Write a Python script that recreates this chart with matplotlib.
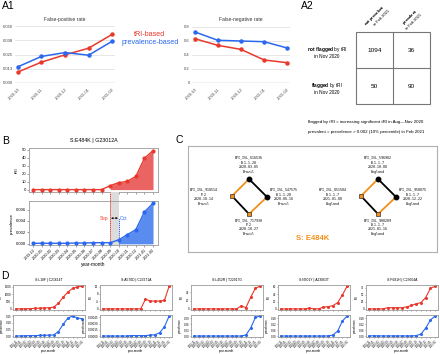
import matplotlib
matplotlib.use('Agg')
import matplotlib.pyplot as plt
from matplotlib.transforms import blended_transform_factory
from matplotlib.patches import Rectangle
from matplotlib.ticker import MaxNLocator
import numpy as np

plt.rcParams['font.family'] = ['Liberation Sans', 'DejaVu Sans']
plt.rcParams['mathtext.fontset'] = 'custom'
plt.rcParams['mathtext.rm'] = 'Liberation Sans'
plt.rcParams['mathtext.bf'] = 'Liberation Sans:bold'
plt.rcParams['mathtext.it'] = 'Liberation Sans:italic'

W, H, DPI = 440, 354, 100

# ---------------- data ----------------
a_months = ['2020-10', '2020-11', '2020-12', '2021-01', '2021-02']
fp_tri = [0.0096, 0.0183, 0.0247, 0.0305, 0.0427]
fp_prev = [0.0142, 0.0233, 0.0267, 0.0244, 0.0366]
fp_ticks = [0.0, 0.0125, 0.025, 0.0375, 0.05]
fp_ticklabels = ['0.000', '0.013', '0.025', '0.038', '0.050']
fn_tri = [0.633, 0.538, 0.480, 0.329, 0.290]
fn_prev = [0.730, 0.610, 0.600, 0.590, 0.500]
fn_ticks = [0.0, 0.2, 0.4, 0.6, 0.8]
fn_ticklabels = ['0', '0.2', '0.4', '0.6', '0.8']

table_rows = ['not flagged', 'flagged']
table_cols = ['not prevalent', 'prevalent']
table_counts = [[1094, 36], [50, 90]]

months = ['2019-12', '2020-01', '2020-02', '2020-03', '2020-04', '2020-05',
          '2020-06', '2020-07', '2020-08', '2020-09', '2020-10', '2020-11',
          '2020-12', '2021-01', '2021-02']
b_title = 'S:E484K | G23012A'
b_tri = [0, 0, 0, 0, 0, 0, 0, 0, 0, 5.0, 8.8, 10.4, 16.7, 39.6, 49.2]
b_prev = [0.0001, 0.0001, 0.0001, 0.0001, 0.0001, 0.00015, 0.00015, 0.0002,
          0.0002, 0.0002, 0.0007, 0.0016, 0.0025, 0.0056, 0.0071]
b_tri_start = 9     # Sep 2020
b_prev_start = 10   # Oct 2020
b_marks = ['Sep', 'Oct']

d_titles = ['S:L18F | C21614T', 'S:A570D | C23271A', 'S:L452R | T22917G',
            'S:N501Y | A23063T', 'S:P681H | C23604A']
d_tri = [
    [0, 0, 10, 20, 30, 45, 60, 80, 120, 380, 800, 1150, 1400, 1500, 1550],
    [0, 0, 0, 0, 0, 0, 0, 0, 0, 5.2, 4.2, 4.2, 4.2, 4.6, 12.2],
    [0, 0, 0, 0, 0, 0, 0, 0, 0, 0, 7, 3, 28, 50, 55],
    [0, 0, 0, 0, 0, 0, 2, 0, 0, 5, 6, 9, 17, 38, 62],
    [0, 0, 0, 0, 4, 4, 4, 4, 7, 12, 18, 22, 40, 72, 80],
]
d_prev = [
    [0.002, 0.003, 0.004, 0.005, 0.005, 0.006, 0.007, 0.008, 0.010, 0.035,
     0.090, 0.135, 0.150, 0.135, 0.130],
    [0, 0, 0, 0, 0, 0, 0.00001, 0.00001, 0.00001, 0.00001, 0.00002, 0.00003,
     0.00008, 0.00022, 0.00048],
    [0, 0, 0, 0, 0, 0, 0, 0, 0, 0, 0, 0.005, 0.040, 0.093, 0.100],
    [0, 0, 0, 0, 0, 0, 0, 0, 0, 0, 0.001, 0.010, 0.050, 0.150, 0.200],
    [0.001, 0.004, 0.002, 0.002, 0.002, 0.002, 0.002, 0.002, 0.002, 0.002,
     0.005, 0.020, 0.080, 0.160, 0.200],
]

c_mutation = 'S: E484K'
c_graphs = [
    {'top': ['EPI_ISL_616536', 'B.1.1.28', '2020-03-05', 'Brazil'],
     'left': ['EPI_ISL_918514', 'P.2', '2020-10-14', 'Brazil'],
     'right': ['EPI_ISL_547575', 'B.1.1.28', '2020-06-16', 'Brazil'],
     'bottom': ['EPI_ISL_717930', 'P.2', '2020-10-27', 'Brazil']},
    {'top': ['EPI_ISL_596982', 'B.1.1.7', '2020-10-08', 'England'],
     'left': ['EPI_ISL_851504', 'B.1.1.7', '2021-01-08', 'England'],
     'right': ['EPI_ISL_950875', 'B.1.1.7', '2020-12-22', 'England'],
     'bottom': ['EPI_ISL_908209', 'B.1.1.7', '2021-01-16', 'England']},
]
c_edges = [('top', 'left', 'orange'), ('top', 'right', 'black'),
           ('left', 'bottom', 'black'), ('right', 'bottom', 'orange')]
c_node_kind = {'top': 'black', 'right': 'black', 'left': 'orange', 'bottom': 'orange'}

# ---------------- style ----------------
RED = '#e8392c'
BLUE = '#2b68ee'
RED_FILL = '#ea6464'
BLUE_FILL = '#5a8cf0'
ORANGE = '#f39019'
SPINE = '#9a9a9a'

fig = plt.figure(figsize=(W / DPI, H / DPI), dpi=DPI)


def px_axes(x0, y0, x1, y1, **kw):
    return fig.add_axes([x0 / W, 1 - y1 / H, (x1 - x0) / W, (y1 - y0) / H], **kw)


ov = fig.add_axes([0, 0, 1, 1], zorder=-1)
ov.set_xlim(0, W)
ov.set_ylim(H, 0)
ov.axis('off')

# panel letters
for lab, (x, y) in {'A1': (2, 1), 'A2': (301, 1), 'B': (2, 136),
                    'C': (176, 135), 'D': (1, 271)}.items():
    ov.text(x, y, lab, fontsize=7.5, ha='left', va='top')

# ---------------- A1 ----------------
def style_a(ax, ticks, labels):
    for s in ax.spines.values():
        s.set_visible(False)
    ax.set_ylim(ticks[0], ticks[-1])
    ax.set_yticks(ticks)
    ax.set_yticklabels(labels)
    ax.grid(axis='y', color='#e2e2e2', lw=0.6)
    ax.axhline(ticks[0], color='#a0a0a0', lw=0.9, zorder=1)
    ax.set_axisbelow(True)
    ax.tick_params(length=0, labelsize=3.0, labelcolor='#444444', pad=1.5)
    ax.set_xticks(range(len(a_months)))
    ax.set_xticklabels(a_months, rotation=45, ha='right', rotation_mode='anchor')
    ax.set_xlim(-0.12, len(a_months) - 1 + 0.12)
    ax.set_facecolor('none')
    ax.tick_params(axis='x', pad=3)


xa = np.arange(len(a_months))
ax_fp = px_axes(15, 26, 115, 83)
ax_fp.plot(xa, fp_tri, color=RED, marker='o', ms=2.2, lw=1.1, zorder=3, clip_on=False)
ax_fp.plot(xa, fp_prev, color=BLUE, marker='o', ms=2.2, lw=1.1, zorder=3, clip_on=False)
style_a(ax_fp, fp_ticks, fp_ticklabels)
ax_fp.set_title('False-positive rate', fontsize=3.6, pad=3.5, color='#333333')

ax_fn = px_axes(192, 27, 290, 83)
ax_fn.plot(xa, fn_tri, color=RED, marker='o', ms=2.2, lw=1.1, zorder=3, clip_on=False)
ax_fn.plot(xa, fn_prev, color=BLUE, marker='o', ms=2.2, lw=1.1, zorder=3, clip_on=False)
style_a(ax_fn, fn_ticks, fn_ticklabels)
ax_fn.set_title('False-negative rate', fontsize=3.6, pad=4.2, color='#333333')

ov.text(150, 34, 'tRI-based', color=RED, fontsize=5.2, ha='center', va='center')
ov.text(150, 43, 'prevalence-based', color=BLUE, fontsize=5.2, ha='center', va='center')

# ---------------- A2 table ----------------
tx0, ty0, cw, ch = 356, 32, 37, 36
nrow, ncol = len(table_rows), len(table_cols)
ov.add_patch(Rectangle((tx0, ty0), cw * ncol, ch * nrow, fill=False, ec='#777777', lw=0.8))
for j in range(1, ncol):
    ov.plot([tx0 + j * cw] * 2, [ty0, ty0 + ch * nrow], color='#777777', lw=0.8)
for i in range(1, nrow):
    ov.plot([tx0, tx0 + cw * ncol], [ty0 + i * ch] * 2, color='#777777', lw=0.8)
for i in range(nrow):
    for j in range(ncol):
        ov.text(tx0 + (j + 0.5) * cw, ty0 + (i + 0.5) * ch + 1, str(table_counts[i][j]),
                ha='center', va='center', fontsize=4.6)
for j, c in enumerate(table_cols):
    ov.text(tx0 + j * cw + 15, ty0 - 1, r'$\mathbf{' + c.replace(' ', r'\ ') + '}$\nin Feb 2021',
            rotation=45, rotation_mode='anchor', ha='left', va='bottom',
            multialignment='right', fontsize=2.9, linespacing=1.05)
for i, r in enumerate(table_rows):
    ov.text(327, ty0 + (i + 0.5) * ch + 2, r'$\mathbf{' + r.replace(' ', r'\ ') + '}$ by tRI\nin Nov 2020',
            ha='center', va='center', fontsize=3.4, linespacing=1.2)

ov.text(308, 122, 'flagged by tRI = increasing significant tRI in Aug\u2014Nov 2020',
        fontsize=3.2, ha='left', va='center')
ov.text(308, 132, 'prevalent = prevalence > 0.002 (10% percentile) in Feb 2021',
        fontsize=3.2, ha='left', va='center')

# ---------------- B ----------------
xm = np.arange(len(months))


def style_box(ax, ls=3.0):
    for s in ax.spines.values():
        s.set_color(SPINE)
        s.set_linewidth(0.6)
    ax.tick_params(length=1.2, width=0.4, labelsize=ls, pad=1, color='#555555')


axb1 = px_axes(29, 148, 158, 192)
axb2 = px_axes(29, 201, 158, 245)
axb1.plot(xm, b_tri, color=RED, marker='o', ms=2.0, lw=1.0, zorder=3)
axb1.fill_between(xm[b_tri_start:], b_tri[b_tri_start:], color=RED_FILL, lw=0, zorder=2)
axb1.set_ylim(-3, 52.5)
axb1.set_yticks([0, 10, 20, 30, 40, 50])
axb1.set_xlim(-0.47, len(months) - 1 + 0.58)
axb1.set_xticks(xm)
axb1.set_xticklabels([])
axb1.set_ylabel('tRI', fontsize=3.2, labelpad=2)
style_box(axb1)
axb1.set_title(b_title, fontsize=3.8, pad=4)

axb2.plot(xm, b_prev, color=BLUE, marker='o', ms=2.0, lw=1.0, zorder=3)
axb2.fill_between(xm[b_prev_start:], b_prev[b_prev_start:], color=BLUE_FILL, lw=0, zorder=2)
axb2.set_ylim(-0.0002, 0.0075)
axb2.set_yticks([0, 0.002, 0.004, 0.006])
axb2.set_yticklabels(['0.000', '0.002', '0.004', '0.006'])
axb2.set_xlim(-0.47, len(months) - 1 + 0.58)
axb2.set_xticks(xm)
axb2.set_xticklabels(months, rotation=45, ha='right', rotation_mode='anchor')
axb2.set_ylabel('prevalence', fontsize=3.2, labelpad=1.5)
axb2.set_xlabel('year-month', fontsize=3.4, labelpad=1)
style_box(axb2)
axb2.tick_params(axis='x', labelsize=2.7)

blend = blended_transform_factory(axb2.transData, fig.transFigure)
ytop = axb1.get_position().y0
ybot = axb2.get_position().y0
axb2.add_patch(Rectangle((b_tri_start, ybot), b_prev_start - b_tri_start, ytop - ybot,
                         transform=blend, color='#dcdcdc', lw=0, clip_on=False, zorder=0))
axb2.plot([b_tri_start] * 2, [ybot, ytop], transform=blend, color=RED, ls=(0, (1.2, 0.8)),
          lw=0.7, clip_on=False, zorder=2)
yoct = axb2.transData.transform((0, 0.0045))[1]
yoct = fig.transFigure.inverted().transform((0, yoct))[1]
axb2.plot([b_prev_start] * 2, [ybot, yoct], transform=blend, color=BLUE, ls=(0, (1.2, 0.8)),
          lw=0.7, clip_on=False, zorder=2)
axb2.text(b_tri_start - 0.15, 0.0045, b_marks[0], color=RED, fontsize=3.4,
          ha='right', va='center')
axb2.text(b_prev_start + 0.15, 0.0045, b_marks[1], color=BLUE, fontsize=3.4, ha='left', va='center')
axb2.annotate('', xy=(b_tri_start + 0.1, 0.0045), xytext=(b_prev_start - 0.1, 0.0045),
              arrowprops=dict(arrowstyle='<|-|>', lw=0.4, ls='--', color='k',
                              mutation_scale=2.5, shrinkA=0, shrinkB=0))

# ---------------- C ----------------
axc = px_axes(188, 146, 437, 252)
axc.set_xlim(188, 437)
axc.set_ylim(252, 146)
axc.set_xticks([])
axc.set_yticks([])
for s in axc.spines.values():
    s.set_color('#b0b0b0')
    s.set_linewidth(0.8)

centers = [(249, 197), (378, 197)]
offsets = {'top': (0, -18), 'left': (-17, -1), 'right': (18, 0), 'bottom': (0, 17)}
for g, (cx, cy) in zip(c_graphs, centers):
    pos = {k: (cx + dx, cy + dy) for k, (dx, dy) in offsets.items()}
    for a, b, col in c_edges:
        axc.plot([pos[a][0], pos[b][0]], [pos[a][1], pos[b][1]],
                 color=ORANGE if col == 'orange' else 'black', lw=1.3, zorder=2,
                 solid_capstyle='round')
    for k, (x, y) in pos.items():
        if c_node_kind[k] == 'black':
            axc.plot(x, y, 'o', color='black', ms=3.2, zorder=3)
        else:
            axc.plot(x, y, 's', mfc=ORANGE, mec='#333333', mew=0.5, ms=3.0, zorder=3)
        txt = '\n'.join(g[k])
        kw = dict(fontsize=2.3, family='DejaVu Sans Mono', linespacing=1.25, ha='center',
                  multialignment='center')
        if k == 'top':
            axc.text(x, y - 5, txt, va='bottom', **kw)
        elif k == 'bottom':
            axc.text(x, y + 4, txt, va='top', **kw)
        elif k == 'left':
            axc.text(x - 28, y + 1, txt, va='center', **kw)
        else:
            axc.text(x + 17, y, txt, va='center', **kw)
axc.text(313, 238, c_mutation, color=ORANGE, fontsize=5.5, fontweight='bold',
         ha='center', va='center')

# ---------------- D ----------------
d_lefts = [13, 100, 191, 278, 366]
for k in range(len(d_titles)):
    x0 = d_lefts[k]
    a1 = px_axes(x0, 285, x0 + 72, 310)
    a2 = px_axes(x0, 315, x0 + 72, 337)
    a1.plot(xm, d_tri[k], color=RED, marker='o', ms=1.2, lw=0.8)
    a2.plot(xm, d_prev[k], color=BLUE, marker='o', ms=1.2, lw=0.8)
    for a in (a1, a2):
        a.set_xlim(-0.6, len(months) - 0.4)
        a.set_xticks(xm)
        a.yaxis.set_major_locator(MaxNLocator(4))
        style_box(a, ls=2.1)
        a.tick_params(length=0.8, pad=0.6)
    a1.set_xticklabels([])
    a2.set_xticklabels(months, rotation=45, ha='right', rotation_mode='anchor', fontsize=1.8)
    a1.set_ylabel('tRI', fontsize=2.2, labelpad=1)
    a2.set_ylabel('prevalence', fontsize=2.2, labelpad=1)
    a2.set_xlabel('year-month', fontsize=2.2, labelpad=0.3)
    a1.set_title(d_titles[k], fontsize=2.4, pad=3)

fig.savefig('out.png', dpi=DPI)
